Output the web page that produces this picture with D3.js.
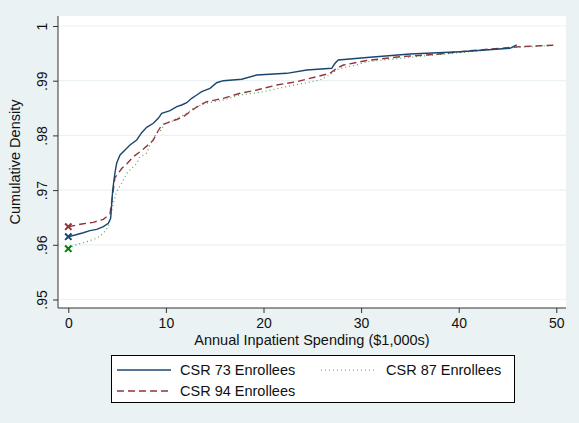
<!DOCTYPE html>
<html>
<head>
<meta charset="utf-8">
<script src="https://cdn.jsdelivr.net/npm/d3@7"></script>
<style>
  html, body { margin: 0; padding: 0; background: #eaf2f3; }
  svg { display: block; font-family: "Liberation Sans", Arial, sans-serif; }
</style>
</head>
<body>
<script>
// Empirical CDFs of annual inpatient spending ($1,000s) by CSR group
const csr73X = [0, 0.69, 1.54, 2.22, 2.91, 3.59, 4.10, 4.34, 4.45, 4.55, 4.68, 4.78, 4.96, 5.30, 5.81, 6.32, 7.01, 7.52, 8.03, 8.71, 9.22, 9.57, 10.42, 11.11, 11.62, 12.13, 12.64, 13.16, 13.67, 14.52, 15.20, 15.88, 17.77, 19.30, 22.38, 24.43, 26.99, 27.33, 27.66, 30.91, 35.01, 40.13, 45.25, 45.94];
const csr73Y = [0.96148, 0.96179, 0.96221, 0.96258, 0.96283, 0.96331, 0.96393, 0.96484, 0.96759, 0.97002, 0.97185, 0.97313, 0.97495, 0.97642, 0.97733, 0.97824, 0.97916, 0.98049, 0.98148, 0.98221, 0.98313, 0.98404, 0.98452, 0.98525, 0.98556, 0.98598, 0.98678, 0.98739, 0.98799, 0.98861, 0.98963, 0.99000, 0.99026, 0.99104, 0.99135, 0.99196, 0.99227, 0.99318, 0.99378, 0.99428, 0.99488, 0.99530, 0.99592, 0.99653];

const csr87X = [0, 0.69, 1.89, 2.91, 3.59, 4.10, 4.34, 4.61, 4.96, 5.47, 5.98, 6.32, 7.01, 7.35, 8.03, 8.37, 9.06, 9.40, 9.91, 10.76, 11.11, 12.13, 12.81, 13.83, 14.86, 15.88, 17.59, 19.98, 22.03, 23.74, 25.79, 26.47, 27.50, 27.84, 29.55, 30.57, 37.40, 41.16, 45.59, 49.36];
const csr87Y = [0.95929, 0.95996, 0.96057, 0.96119, 0.96210, 0.96331, 0.96514, 0.96759, 0.96974, 0.97124, 0.97307, 0.97367, 0.97490, 0.97605, 0.97678, 0.97824, 0.98053, 0.98068, 0.98221, 0.98263, 0.98309, 0.98404, 0.98495, 0.98574, 0.98616, 0.98647, 0.98739, 0.98799, 0.98879, 0.98940, 0.99013, 0.99073, 0.99196, 0.99227, 0.99287, 0.99347, 0.99470, 0.99530, 0.99607, 0.99640];

const csr94X = [0, 1.37, 2.56, 3.59, 4.27, 4.45, 4.61, 4.78, 5.12, 5.47, 5.98, 6.66, 7.52, 8.37, 8.71, 9.06, 9.57, 10.42, 11.11, 11.78, 12.47, 13.16, 14.18, 15.88, 17.59, 19.30, 21.35, 23.40, 25.45, 26.81, 27.50, 28.18, 30.57, 33.99, 37.75, 40.82, 44.24, 46.29, 48.84, 49.69];
const csr94Y = [0.96331, 0.96380, 0.96411, 0.96466, 0.96563, 0.96788, 0.97002, 0.97230, 0.97307, 0.97395, 0.97477, 0.97611, 0.97724, 0.97856, 0.97916, 0.98038, 0.98190, 0.98250, 0.98291, 0.98342, 0.98433, 0.98519, 0.98616, 0.98678, 0.98770, 0.98830, 0.98921, 0.98982, 0.99073, 0.99135, 0.99227, 0.99287, 0.99369, 0.99439, 0.99484, 0.99543, 0.99592, 0.99622, 0.99644, 0.99647];

const seriesNames = ["CSR 73 Enrollees", "CSR 87 Enrollees", "CSR 94 Enrollees"];
const seriesColors = ["#1a476f", "#55a055", "#90353b"];
const markerColors = ["#1a476f", "#008000", "#90353b"];

const xTicks = [0, 10, 20, 30, 40, 50];
const yTicks = [0.95, 0.96, 0.97, 0.98, 0.99, 1];
const yTickLabels = [".95", ".96", ".97", ".98", ".99", "1"];

const W = 579, H = 423;
const plot = { left: 58, right: 566, top: 16, bottom: 308 };
const tickFont = 14, labelFont = 14.5;

const x = d3.scaleLinear().domain([0, 50]).range([68.3, 556.3]);
const y = d3.scaleLinear().domain([0.95, 1]).range([299.5, 26]);

const svg = d3.select("body").append("svg").attr("width", W).attr("height", H);

svg.append("rect").attr("width", W).attr("height", H).attr("fill", "#eaf2f3");
svg.append("rect")
  .attr("x", plot.left).attr("y", plot.top)
  .attr("width", plot.right - plot.left).attr("height", plot.bottom - plot.top)
  .attr("fill", "#ffffff");

// horizontal grid lines
svg.append("g").selectAll("line").data(yTicks).join("line")
  .attr("x1", plot.left).attr("x2", plot.right)
  .attr("y1", d => y(d)).attr("y2", d => y(d))
  .attr("stroke", "#eaf2f3").attr("stroke-width", 1.2);

// y axis with vertical tick labels
const yAxis = d3.axisLeft(y).tickValues(yTicks).tickSize(5)
  .tickFormat((d, i) => yTickLabels[i]);
const gy = svg.append("g").attr("transform", `translate(${plot.left},0)`).call(yAxis);
gy.select(".domain").attr("d", `M0,${plot.top}V${plot.bottom}`).attr("stroke", "#333");
gy.selectAll(".tick line").attr("stroke", "#333");
gy.selectAll(".tick text")
  .attr("font-size", tickFont).attr("fill", "#111")
  .attr("x", null).attr("dy", 0)
  .attr("text-anchor", "middle")
  .attr("transform", "translate(-11,0) rotate(-90)");

// x axis
const xAxis = d3.axisBottom(x).tickValues(xTicks).tickSize(5);
const gx = svg.append("g").attr("transform", `translate(0,${plot.bottom})`).call(xAxis);
gx.select(".domain").attr("d", `M${plot.left},0H${plot.right}`).attr("stroke", "#333");
gx.selectAll(".tick line").attr("stroke", "#333");
gx.selectAll(".tick text").attr("font-size", tickFont).attr("fill", "#111")
  .attr("y", 20).attr("dy", 0);

// axis titles
svg.append("text")
  .attr("x", (plot.left + plot.right) / 2).attr("y", 345)
  .attr("text-anchor", "middle").attr("font-size", labelFont).attr("fill", "#111")
  .text("Annual Inpatient Spending ($1,000s)");
svg.append("text")
  .attr("transform", `translate(20,${(plot.top + plot.bottom) / 2}) rotate(-90)`)
  .attr("text-anchor", "middle").attr("font-size", labelFont).attr("fill", "#111")
  .text("Cumulative Density");

// CDF lines
const series = [
  { xs: csr73X, ys: csr73Y, color: seriesColors[0], dash: null, width: 1.4 },
  { xs: csr87X, ys: csr87Y, color: seriesColors[1], dash: "1,3", width: 1.2 },
  { xs: csr94X, ys: csr94Y, color: seriesColors[2], dash: "7,4", width: 1.4 }
];
const line = d3.line().x(d => x(d[0])).y(d => y(d[1]));
[1, 2, 0].forEach(i => {
  const s = series[i];
  svg.append("path")
    .datum(s.xs.map((v, k) => [v, s.ys[k]]))
    .attr("d", line)
    .attr("fill", "none")
    .attr("stroke", s.color)
    .attr("stroke-width", s.width)
    .attr("stroke-dasharray", s.dash);
});

// X markers at zero spending
series.forEach((s, i) => {
  const cx = x(s.xs[0]), cy = y(s.ys[0]), r = 3.2;
  svg.append("path")
    .attr("d", `M${cx - r},${cy - r}L${cx + r},${cy + r}M${cx - r},${cy + r}L${cx + r},${cy - r}`)
    .attr("stroke", markerColors[i]).attr("stroke-width", 2);
});

// legend
const lg = svg.append("g");
lg.append("rect").attr("x", 111.5).attr("y", 355.5).attr("width", 403).attr("height", 47)
  .attr("fill", "#ffffff").attr("stroke", "#000").attr("stroke-width", 1);
const legendItems = [
  { s: 0, kx: 117, tx: 180, ky: 370 },
  { s: 1, kx: 321, tx: 386, ky: 370 },
  { s: 2, kx: 117, tx: 180, ky: 391 }
];
legendItems.forEach(it => {
  const s = series[it.s];
  lg.append("line").attr("x1", it.kx).attr("x2", it.kx + 54)
    .attr("y1", it.ky).attr("y2", it.ky)
    .attr("stroke", s.color).attr("stroke-width", s.width)
    .attr("stroke-dasharray", s.dash);
  lg.append("text").attr("x", it.tx).attr("y", it.ky + 5)
    .attr("font-size", labelFont).attr("fill", "#111")
    .text(seriesNames[it.s]);
});
</script>
</body>
</html>
